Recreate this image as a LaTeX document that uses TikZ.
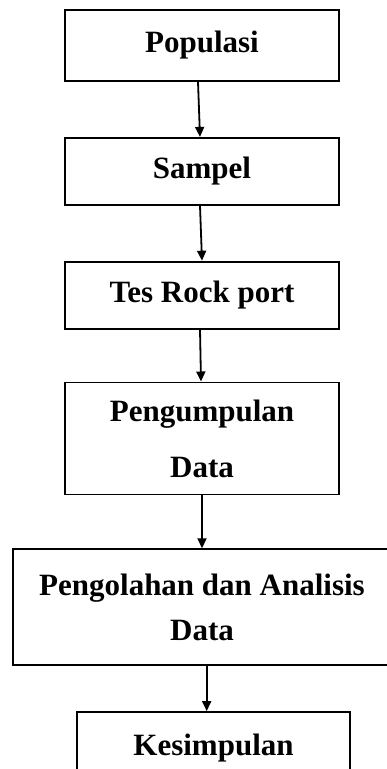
\documentclass[tikz,border=0pt]{standalone}
\usepackage{fontspec}
\setmainfont{Liberation Serif}
\usetikzlibrary{positioning}
\usetikzlibrary{arrows.meta}

\begin{document}
\begin{tikzpicture}[
        stepbox/.style={draw, line width=1.8pt, align=center, inner sep=0pt,
            minimum width=274pt, font=\bfseries\fontsize{31}{37}\selectfont},
        flow/.style={-{Triangle[length=10pt,width=9pt]}, line width=1.8pt}
    ]
        \useasboundingbox (0pt,0pt) rectangle (387pt,-769pt);

        \node(pop) [stepbox, minimum height=71pt] at (202pt,-45.5pt) {Populasi};
        \node(sam) [stepbox, minimum height=67pt, below=55pt of pop] {Sampel};
        \node(tes) [stepbox, minimum height=67pt, below=55pt of sam] {Tes Rock port};
        \node(kum) [stepbox, minimum height=112pt, below=52pt of tes] {Pengumpulan\\[19pt]Data};
        \node(olah) [stepbox, minimum height=116pt, minimum width=378pt, below=53pt of kum] {Pengolahan dan Analisis\\[8pt]Data};
        \node(simp) [stepbox, minimum height=72pt, minimum width=273pt, below=45pt of olah, xshift=11.5pt] {Kesimpulan};

        \draw[flow] ([xshift=-4pt]pop.south) -- ([xshift=-2pt]sam.north);
        \draw[flow] ([xshift=-2pt]sam.south) -- (tes.north);
        \draw[flow] ([xshift=-2pt]tes.south) -- ([xshift=-1pt]kum.north);
        \draw[flow] (kum.south) -- (olah.north);
        \draw[flow] ([xshift=4.7pt]olah.south) -- ([xshift=-6.8pt]simp.north);
    \end{tikzpicture}
\end{document}
